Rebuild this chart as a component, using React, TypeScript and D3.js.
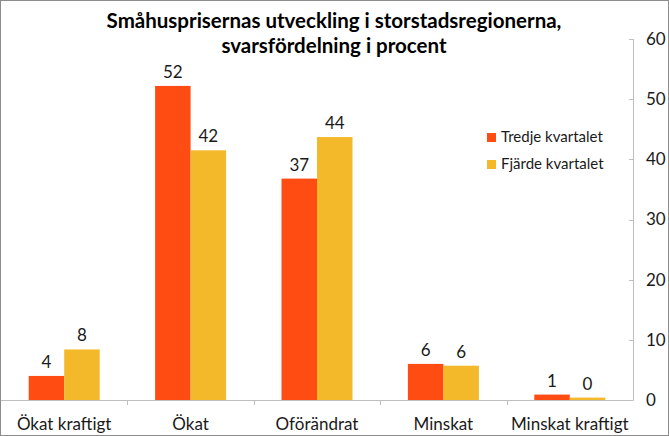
import React from "react";
import * as d3 from "d3";

const categories = ["Ökat kraftigt", "Ökat", "Oförändrat", "Minskat", "Minskat kraftigt"];
const seriesNames = ["Tredje kvartalet", "Fjärde kvartalet"];
const tredje = [4.0, 52.2, 36.8, 6.0, 0.9];
const fjarde = [8.4, 41.5, 43.7, 5.7, 0.4];
const yTicks = [0, 10, 20, 30, 40, 50, 60];
const colors = ["#FF4C13", "#F4B82B"];

const W = 669;
const H = 436;
const FONT = "Lato, 'Open Sans', sans-serif";

export default function App() {
  const x0 = d3.scaleBand<string>().domain(categories).range([1, 633]).padding(0);
  const x1 = d3
    .scaleBand<string>()
    .domain(seriesNames)
    .range([0, x0.bandwidth()])
    .paddingInner(0)
    .paddingOuter(0.78);
  const y = d3.scaleLinear().domain([0, 60]).range([400, 39]);
  const data = [tredje, fjarde];
  const axisX = 633;

  return (
    <svg
      width={W}
      height={H}
      style={{ position: "absolute", left: 0, top: 0, background: "#fff" }}
      fontFamily={FONT}
    >
      <rect x={0.5} y={0.5} width={W - 1} height={H - 1} fill="#fff" stroke="#8c8c8c" />
      <text x={334} y={28} textAnchor="middle" fontWeight="bold" fontSize={20.5} fill="#000">
        Småhusprisernas utveckling i storstadsregionerna,
      </text>
      <text x={334} y={53} textAnchor="middle" fontWeight="bold" fontSize={20.5} fill="#000">
        svarsfördelning i procent
      </text>

      {/* right axis */}
      <line x1={axisX + 0.5} x2={axisX + 0.5} y1={y(60)} y2={y(0)} stroke="#bfbfbf" />
      {yTicks.map((t) => (
        <g key={t}>
          <line x1={axisX - 4} x2={axisX + 0.5} y1={Math.round(y(t)) + 0.5} y2={Math.round(y(t)) + 0.5} stroke="#bfbfbf" />
          <text x={646} y={y(t)} dy="0.35em" fontSize={17} fill="#1a1a1a">
            {t}
          </text>
        </g>
      ))}

      {/* bars */}
      {categories.map((c, i) => (
        <g key={c} transform={`translate(${x0(c)},0)`}>
          {seriesNames.map((s, j) => {
            const v = data[j][i];
            const bx = x1(s)!;
            return (
              <g key={s}>
                <rect x={bx} y={y(v)} width={x1.bandwidth()} height={y(0) - y(v)} fill={colors[j]} />
                <text
                  x={bx + x1.bandwidth() / 2}
                  y={y(v) - 8}
                  textAnchor="middle"
                  fontSize={17}
                  fill="#1a1a1a"
                >
                  {Math.round(v)}
                </text>
              </g>
            );
          })}
        </g>
      ))}

      {/* baseline */}
      <line x1={1} x2={axisX + 0.5} y1={400.5} y2={400.5} stroke="#bfbfbf" />
      {categories.slice(1).map((c) => (
        <line key={c} x1={Math.round(x0(c)!) + 0.5} x2={Math.round(x0(c)!) + 0.5} y1={400} y2={405} stroke="#bfbfbf" />
      ))}
      {categories.map((c) => (
        <text key={c} x={x0(c)! + x0.bandwidth() / 2} y={430} textAnchor="middle" fontSize={17} fill="#1a1a1a">
          {c}
        </text>
      ))}

      {/* legend */}
      {seriesNames.map((s, j) => (
        <g key={s} transform={`translate(487,${133 + j * 27})`}>
          <rect x={0} y={0} width={9} height={9} fill={colors[j]} />
          <text x={14} y={9} fontSize={15} fill="#1a1a1a">
            {s}
          </text>
        </g>
      ))}
    </svg>
  );
}
